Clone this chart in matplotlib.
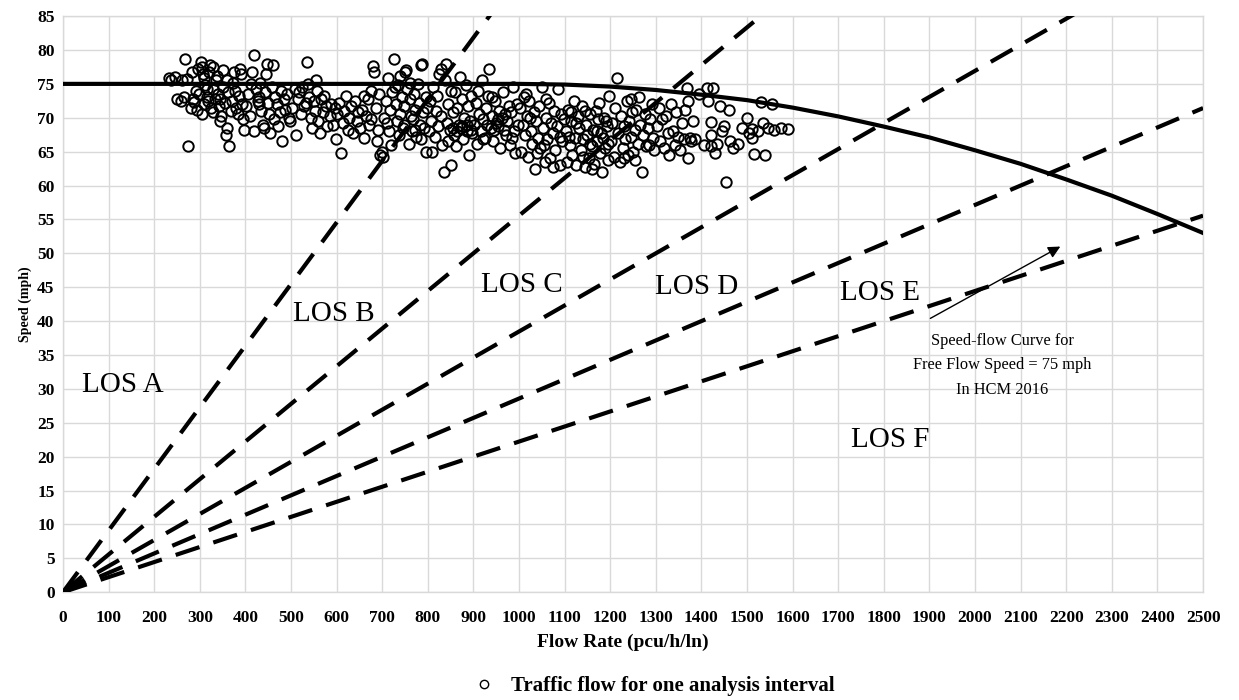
import matplotlib
matplotlib.use("Agg")
import matplotlib.pyplot as plt
from matplotlib.lines import Line2D

plt.rcParams['font.family'] = ['Liberation Serif', 'DejaVu Serif']

# ---------------- data ----------------
flow_obs = [
    232,238,245,250,258,262,268,272,275,280,285,288,292,295,298,265,283,297,
    302,305,308,310,312,315,318,320,322,325,328,330,333,335,338,340,342,345,347,350,352,355,357,360,362,365,368,370,372,375,378,380,383,385,388,390,392,395,398,305,315,345,360,310,330,
    402,405,410,412,415,418,420,424,428,430,433,435,438,440,442,445,448,450,452,455,458,460,463,466,470,472,475,478,480,485,488,492,495,498,430,
    503,508,512,515,518,522,525,528,532,535,538,540,543,546,550,553,556,560,563,566,570,573,577,580,585,588,592,596,598,555,
    602,606,610,613,617,620,624,628,632,636,640,644,648,652,656,660,664,668,672,676,680,683,686,690,693,696,699,688,675,660,
    702,705,708,712,715,718,721,725,728,730,733,736,738,740,743,745,748,750,752,755,758,760,763,765,768,770,773,775,778,780,783,786,788,790,792,795,798,710,720,735,748,762,772,785,797,
    802,805,808,810,812,815,818,820,822,825,828,830,832,835,838,840,842,845,848,850,852,855,858,860,862,865,868,870,872,875,878,880,883,885,888,890,893,895,898,855,865,875,885,895,845,
    902,905,908,910,913,916,919,922,925,928,931,935,938,941,944,947,950,953,956,959,962,965,968,971,974,977,980,983,986,989,992,995,998,930,945,955,970,985,920,940,
    1002,1005,1008,1011,1014,1017,1020,1023,1026,1029,1032,1035,1038,1041,1044,1047,1050,1053,1056,1059,1062,1065,1068,1071,1074,1077,1080,1083,1086,1089,1092,1095,1098,1015,1040,1060,1075,1090,1025,1055,
    1102,1105,1108,1111,1114,1117,1120,1123,1126,1129,1132,1135,1138,1141,1144,1147,1150,1153,1156,1159,1162,1165,1168,1171,1174,1177,1180,1183,1186,1189,1192,1195,1198,1110,1125,1140,1155,1170,1185,1195,1115,1145,1160,1175,1190,
    1202,1205,1208,1211,1215,1218,1221,1224,1227,1230,1233,1236,1239,1242,1245,1248,1251,1254,1257,1260,1263,1266,1270,1273,1276,1279,1282,1285,1288,1291,1294,1297,1230,1255,1245,
    1302,1306,1310,1314,1318,1322,1326,1329,1333,1337,1341,1345,1349,1353,1357,1361,1365,1368,1370,1370,1374,1378,1382,1387,1395,
    1412,1415,1420,1421,1421,1426,1440,1445,1450,1455,1460,1463,1435,1405,1430,1470,1480,1490,
    1500,1505,1510,1512,1515,1525,1530,1535,1540,1545,1555,1560,1575,1590,
]
speed_obs = [
    75.8,75.5,76.0,72.8,72.5,75.5,78.6,75.7,65.8,71.5,72.8,72.3,74.0,71.2,73.5,73.0,76.8,77.2,
    78.2,77.5,76.5,75.8,74.8,73.0,72.5,76.8,77.8,71.5,70.8,74.2,72.8,75.5,76.2,73.5,71.8,69.5,70.2,77.0,74.5,72.2,67.5,68.5,73.8,65.8,71.0,72.5,75.2,76.8,74.0,71.5,70.5,73.2,77.2,76.5,72.0,69.8,68.2,70.5,74.2,72.8,75.6,72.0,77.5,
    71.8,73.5,70.2,75.0,76.8,68.0,79.2,74.2,72.5,73.0,75.2,71.0,69.0,68.5,73.8,76.5,78.0,72.2,70.5,67.8,74.5,77.8,69.8,73.0,72.0,68.8,70.8,74.0,66.5,72.8,71.2,73.5,70.0,69.5,72.0,
    71.5,74.2,67.5,72.8,73.8,70.5,74.5,71.8,72.2,78.2,75.0,73.0,70.0,68.5,72.5,71.0,74.0,69.5,67.8,72.8,70.8,73.2,71.8,68.8,70.2,72.0,69.0,71.5,66.8,75.5,
    70.5,72.2,64.8,69.2,71.0,73.2,68.2,70.0,71.8,67.8,72.5,69.5,70.8,68.5,71.2,67.0,70.2,72.8,69.0,74.0,77.6,76.8,71.5,68.2,73.5,64.5,65.0,66.5,69.8,73.2,
    64.2,70.0,72.5,75.8,68.0,71.2,73.8,78.6,74.5,72.0,69.5,67.5,76.2,70.5,73.0,68.5,71.8,76.8,77.0,74.2,66.2,72.8,70.2,68.0,69.8,73.5,71.2,67.2,75.0,72.2,69.0,77.8,78.0,70.8,68.5,73.0,71.5,69.2,66.0,74.8,69.0,75.2,68.2,66.8,65.0,
    68.0,72.5,69.5,65.0,74.5,67.2,71.0,73.2,68.8,76.5,70.2,77.2,66.0,62.0,75.5,78.0,69.2,72.0,68.2,63.0,74.0,70.8,67.5,73.8,65.8,71.5,69.0,76.0,68.5,72.8,66.8,70.0,74.8,68.0,71.8,64.5,69.5,73.2,67.8,68.5,68.0,68.8,69.0,68.2,66.5,
    69.0,72.2,66.2,74.0,70.5,68.0,75.5,69.8,67.0,71.5,73.2,77.2,68.5,70.2,66.5,72.5,69.2,68.8,71.0,65.5,70.0,73.8,68.2,67.5,69.5,71.8,66.0,70.8,74.5,68.0,64.8,72.0,69.0,69.0,68.2,69.8,70.5,67.0,66.8,73.0,
    71.5,65.0,69.0,73.0,67.5,70.2,64.2,72.5,68.0,66.2,70.8,62.5,69.5,67.0,71.8,65.5,74.5,68.5,63.5,70.0,66.8,72.2,64.0,69.2,67.8,71.0,65.2,68.8,74.2,63.0,70.5,66.5,69.8,73.5,64.8,72.8,62.8,67.2,70.0,66.0,
    68.0,63.5,71.2,66.0,69.5,64.5,72.5,67.0,63.0,70.2,68.5,65.2,71.8,66.8,62.8,69.0,67.5,64.0,70.5,65.8,68.2,63.2,71.0,66.5,69.8,64.8,67.8,62.0,70.0,65.5,68.8,66.2,73.2,67.2,69.2,64.2,66.2,68.0,67.0,63.8,70.8,71.0,62.5,72.2,69.5,
    66.5,69.2,64.2,71.5,75.8,67.8,63.5,70.2,65.5,68.8,66.8,72.5,64.5,69.5,67.2,70.8,65.0,68.2,71.2,66.2,73.0,69.0,62.0,67.5,70.5,65.8,68.5,66.0,69.8,72.0,67.0,65.2,64.0,63.8,72.8,
    68.8,71.5,66.5,69.8,65.5,70.2,67.8,64.5,72.0,68.0,66.0,70.8,67.2,65.2,69.2,66.8,71.2,74.4,72.5,64.1,67.0,66.5,69.5,66.8,73.5,
    74.4,72.5,69.4,67.4,65.9,74.4,71.8,68.0,68.8,60.5,71.2,66.5,66.2,66.0,64.8,65.5,66.2,68.5,
    69.9,67.8,68.3,67.0,64.6,68.0,72.3,69.3,64.5,68.5,72.0,68.2,68.5,68.3,
]

# HCM 2016 speed-flow curve, FFS = 75 mph
curve_flow = [0, 1000, 1100, 1200, 1300, 1400, 1500, 1600, 1700, 1800, 1900,
              2000, 2100, 2200, 2300, 2400, 2500]
curve_speed = [75.0, 75.0, 74.9, 74.6, 74.1, 73.4, 72.6, 71.5, 70.2, 68.7, 67.1,
               65.2, 63.2, 60.9, 58.5, 55.8, 53.0]

# LOS boundary densities (pc/mi/ln)
los_density = [11, 18, 26, 35, 45]
los_labels = ["LOS A", "LOS B", "LOS C", "LOS D", "LOS E", "LOS F"]
los_label_flow = [132, 594, 1007, 1390, 1792, 1813]
los_label_speed = [30.5, 41.0, 45.3, 45.1, 44.1, 22.4]

x_ticks = list(range(0, 2501, 100))
y_ticks = list(range(0, 86, 5))

# ---------------- figure ----------------
fig = plt.figure(figsize=(12.39, 7.00), dpi=100)
ax = fig.add_axes([0.0508, 0.154, 0.9202, 0.823])

ax.set_xlim(0, 2500)
ax.set_ylim(0, 85)
ax.set_xticks(x_ticks)
ax.set_yticks(y_ticks)
ax.grid(True, color='#d9d9d9', linewidth=1.0, zorder=0)
for sp in ax.spines.values():
    sp.set_color('#d9d9d9')
    sp.set_linewidth(1.0)
ax.tick_params(axis='x', length=0, labelsize=12.5, pad=13)
ax.tick_params(axis='y', length=0, labelsize=12.5, pad=6)
for lab in ax.get_xticklabels() + ax.get_yticklabels():
    lab.set_fontweight('bold')

# LOS boundary lines
for d in los_density:
    xs = [0, 2500]
    ys = [x / d for x in xs]
    ax.plot(xs, ys, color='black', linewidth=3.0, linestyle=(0, (6, 3.5)),
            zorder=3, dash_capstyle='butt')

# observations
ax.plot(flow_obs, speed_obs, linestyle='none', marker='o', markersize=7.5,
        markerfacecolor='none', markeredgecolor='black', markeredgewidth=1.4,
        zorder=4)

# speed-flow curve
ax.plot(curve_flow, curve_speed, color='black', linewidth=3.0, zorder=5)

# labels
for lab, fx, sy in zip(los_labels, los_label_flow, los_label_speed):
    ax.text(fx, sy, lab, fontsize=21, ha='center', va='center', zorder=6)

ax.text(2059, 33.5, "Speed-flow Curve for\nFree Flow Speed = 75 mph\nIn HCM 2016",
        fontsize=11.8, ha='center', va='center', linespacing=1.7, zorder=6)
ax.annotate("", xy=(2187, 51.0), xytext=(1902, 40.4),
            arrowprops=dict(arrowstyle='-|>', color='black', lw=1.0,
                            mutation_scale=18, shrinkA=0, shrinkB=0), zorder=6)

ax.set_xlabel("Flow Rate (pcu/h/ln)", fontsize=14, fontweight='bold', labelpad=3)
ax.xaxis.set_label_coords(0.491, -0.072)
ax.set_ylabel("Speed (mph)", fontsize=10, fontweight='bold', labelpad=4)

handle = Line2D([], [], linestyle='none', marker='o', markersize=6,
                markerfacecolor='none', markeredgecolor='black', markeredgewidth=1.0)
fig.legend([handle], ["Traffic flow for one analysis interval"],
           loc='center', bbox_to_anchor=(0.524, 0.02), frameon=False,
           prop={'weight': 'bold', 'size': 15}, handletextpad=0.3,
           borderpad=0)

fig.savefig("out.png", dpi=100)
